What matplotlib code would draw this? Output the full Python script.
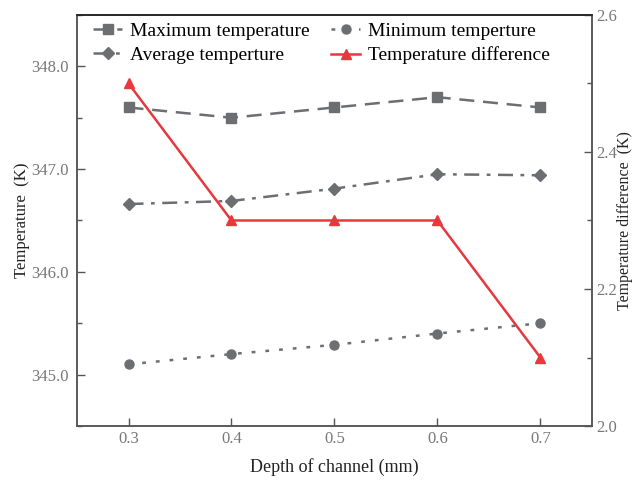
import numpy as np
import matplotlib.pyplot as plt
from matplotlib.ticker import MultipleLocator

# data
depth = [0.3, 0.4, 0.5, 0.6, 0.7]
t_max = [347.6, 347.5, 347.6, 347.7, 347.6]
t_min = [345.1, 345.2, 345.29, 345.4, 345.5]
t_avg = [346.66, 346.69, 346.81, 346.95, 346.94]
t_diff = [2.5, 2.3, 2.3, 2.3, 2.1]

gray = '#6d6e71'
red = '#e8383d'
tick_col = '#777777'

plt.rcParams['font.family'] = ['Liberation Serif', 'DejaVu Serif']
plt.rcParams['font.size'] = 12

fig = plt.figure(figsize=(6.34, 4.83), dpi=100)
ax = fig.add_axes([0.1215, 0.118, 0.812, 0.851])
ax2 = ax.twinx()

l1, = ax.plot(depth, t_max, color=gray, ls=(0, (6, 3.5)), lw=1.8, marker='s', ms=6.5,
              label='Maximum temperature')
l3, = ax.plot(depth, t_avg, color=gray, ls=(0, (6, 3, 1.5, 3)), lw=1.8, marker='D', ms=6,
              label='Average temperture')
l2, = ax.plot(depth, t_min, color=gray, ls=(0, (1.5, 4)), lw=1.8, marker='o', ms=6.5,
              label='Minimum temperture')
l4, = ax2.plot(depth, t_diff, color=red, lw=1.8, marker='^', ms=7.5,
               label='Temperature difference')

ax.set_xlim(0.25, 0.75)
ax.set_ylim(344.5, 348.5)
ax2.set_ylim(2.0, 2.6)
ax.set_xticks(depth)
ax.set_xticklabels(['%.1f' % d for d in depth])
ax.yaxis.set_major_locator(MultipleLocator(1.0))
ax.yaxis.set_minor_locator(MultipleLocator(0.5))
ax.yaxis.set_major_formatter(plt.FuncFormatter(lambda v, p: '%.1f' % v))
ax2.yaxis.set_major_locator(MultipleLocator(0.2))
ax2.yaxis.set_minor_locator(MultipleLocator(0.1))
ax2.yaxis.set_major_formatter(plt.FuncFormatter(lambda v, p: '%.1f' % v))

for a in (ax, ax2):
    a.tick_params(which='both', direction='in', color='#555555')
    a.tick_params(which='major', length=6, width=1, labelcolor=tick_col, labelsize=12)
    a.tick_params(which='minor', length=3.5, width=1)
    for s in ('left', 'bottom', 'right'):
        a.spines[s].set_color('#555555')
        a.spines[s].set_linewidth(1.1)
    a.spines['top'].set_color('#222222')
    a.spines['top'].set_linewidth(1.1)
ax.tick_params(axis='y', pad=6)
ax2.tick_params(axis='y', pad=3)

ax.set_xlabel('Depth of channel (mm)', fontsize=13, color='#222222', labelpad=8)
ax.set_ylabel('Temperature  (K)', fontsize=12, color='#222222', labelpad=1)
ax2.set_ylabel('Temperature difference  (K)', fontsize=11.5, color='#222222', labelpad=0)

ax.legend(handles=[l1, l3, l2, l4], ncol=2, frameon=False, loc='upper center',
          bbox_to_anchor=(0.475, 1.025), fontsize=14, handlelength=1.5,
          columnspacing=1.1, labelspacing=0.35, handletextpad=0.4)

fig.savefig('out.png', dpi=100)
